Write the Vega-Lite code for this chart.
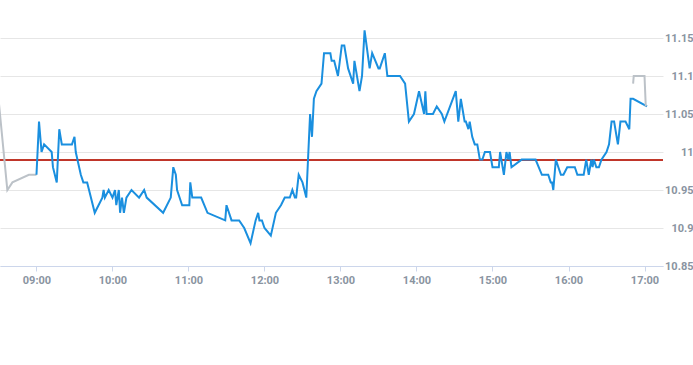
{
  "$schema": "https://vega.github.io/schema/vega-lite/v6.json",
  "width": 663,
  "height": 266,
  "padding": {"left": 0, "top": 0, "right": 30, "bottom": 99},
  "autosize": {"type": "none"},
  "background": "white",
  "config": {
    "view": {"stroke": null},
    "axis": {"labelFont": "Roboto", "labelFontSize": 11, "labelColor": "#8a94a1", "labelFontWeight": "bold"}
  },
  "data": {
    "values": [
      {"t": "2024-01-15T08:30:00", "p": 11.07, "s": "pre"},
      {"t": "2024-01-15T08:37:00", "p": 10.95, "s": "pre"},
      {"t": "2024-01-15T08:41:00", "p": 10.96, "s": "pre"},
      {"t": "2024-01-15T08:54:00", "p": 10.97, "s": "pre"},
      {"t": "2024-01-15T09:00:00", "p": 10.97, "s": "pre"},
      {"t": "2024-01-15T09:00:00", "p": 10.97, "s": "reg"},
      {"t": "2024-01-15T09:02:00", "p": 11.04, "s": "reg"},
      {"t": "2024-01-15T09:04:00", "p": 11.00, "s": "reg"},
      {"t": "2024-01-15T09:06:00", "p": 11.01, "s": "reg"},
      {"t": "2024-01-15T09:12:00", "p": 11.00, "s": "reg"},
      {"t": "2024-01-15T09:13:00", "p": 10.98, "s": "reg"},
      {"t": "2024-01-15T09:16:00", "p": 10.96, "s": "reg"},
      {"t": "2024-01-15T09:18:00", "p": 11.03, "s": "reg"},
      {"t": "2024-01-15T09:20:00", "p": 11.01, "s": "reg"},
      {"t": "2024-01-15T09:28:00", "p": 11.01, "s": "reg"},
      {"t": "2024-01-15T09:30:00", "p": 11.02, "s": "reg"},
      {"t": "2024-01-15T09:31:00", "p": 11.00, "s": "reg"},
      {"t": "2024-01-15T09:35:00", "p": 10.97, "s": "reg"},
      {"t": "2024-01-15T09:37:00", "p": 10.96, "s": "reg"},
      {"t": "2024-01-15T09:40:00", "p": 10.96, "s": "reg"},
      {"t": "2024-01-15T09:46:00", "p": 10.92, "s": "reg"},
      {"t": "2024-01-15T09:52:00", "p": 10.94, "s": "reg"},
      {"t": "2024-01-15T09:53:00", "p": 10.95, "s": "reg"},
      {"t": "2024-01-15T09:54:00", "p": 10.94, "s": "reg"},
      {"t": "2024-01-15T09:57:00", "p": 10.95, "s": "reg"},
      {"t": "2024-01-15T10:00:00", "p": 10.94, "s": "reg"},
      {"t": "2024-01-15T10:02:00", "p": 10.95, "s": "reg"},
      {"t": "2024-01-15T10:03:00", "p": 10.93, "s": "reg"},
      {"t": "2024-01-15T10:05:00", "p": 10.95, "s": "reg"},
      {"t": "2024-01-15T10:06:00", "p": 10.92, "s": "reg"},
      {"t": "2024-01-15T10:07:30", "p": 10.94, "s": "reg"},
      {"t": "2024-01-15T10:09:00", "p": 10.92, "s": "reg"},
      {"t": "2024-01-15T10:11:00", "p": 10.94, "s": "reg"},
      {"t": "2024-01-15T10:15:00", "p": 10.95, "s": "reg"},
      {"t": "2024-01-15T10:21:00", "p": 10.94, "s": "reg"},
      {"t": "2024-01-15T10:25:00", "p": 10.95, "s": "reg"},
      {"t": "2024-01-15T10:27:00", "p": 10.94, "s": "reg"},
      {"t": "2024-01-15T10:40:00", "p": 10.92, "s": "reg"},
      {"t": "2024-01-15T10:46:00", "p": 10.94, "s": "reg"},
      {"t": "2024-01-15T10:48:00", "p": 10.98, "s": "reg"},
      {"t": "2024-01-15T10:50:00", "p": 10.97, "s": "reg"},
      {"t": "2024-01-15T10:51:00", "p": 10.95, "s": "reg"},
      {"t": "2024-01-15T10:55:00", "p": 10.93, "s": "reg"},
      {"t": "2024-01-15T11:00:40", "p": 10.93, "s": "reg"},
      {"t": "2024-01-15T11:01:25", "p": 10.96, "s": "reg"},
      {"t": "2024-01-15T11:03:00", "p": 10.94, "s": "reg"},
      {"t": "2024-01-15T11:10:00", "p": 10.94, "s": "reg"},
      {"t": "2024-01-15T11:15:00", "p": 10.92, "s": "reg"},
      {"t": "2024-01-15T11:29:00", "p": 10.91, "s": "reg"},
      {"t": "2024-01-15T11:30:00", "p": 10.93, "s": "reg"},
      {"t": "2024-01-15T11:34:00", "p": 10.91, "s": "reg"},
      {"t": "2024-01-15T11:40:00", "p": 10.91, "s": "reg"},
      {"t": "2024-01-15T11:44:00", "p": 10.90, "s": "reg"},
      {"t": "2024-01-15T11:49:00", "p": 10.88, "s": "reg"},
      {"t": "2024-01-15T11:53:00", "p": 10.91, "s": "reg"},
      {"t": "2024-01-15T11:55:00", "p": 10.92, "s": "reg"},
      {"t": "2024-01-15T11:56:00", "p": 10.91, "s": "reg"},
      {"t": "2024-01-15T11:58:00", "p": 10.91, "s": "reg"},
      {"t": "2024-01-15T12:00:00", "p": 10.90, "s": "reg"},
      {"t": "2024-01-15T12:05:00", "p": 10.89, "s": "reg"},
      {"t": "2024-01-15T12:09:00", "p": 10.92, "s": "reg"},
      {"t": "2024-01-15T12:13:00", "p": 10.93, "s": "reg"},
      {"t": "2024-01-15T12:16:00", "p": 10.94, "s": "reg"},
      {"t": "2024-01-15T12:20:00", "p": 10.94, "s": "reg"},
      {"t": "2024-01-15T12:22:00", "p": 10.95, "s": "reg"},
      {"t": "2024-01-15T12:24:00", "p": 10.94, "s": "reg"},
      {"t": "2024-01-15T12:25:00", "p": 10.94, "s": "reg"},
      {"t": "2024-01-15T12:27:00", "p": 10.97, "s": "reg"},
      {"t": "2024-01-15T12:30:00", "p": 10.96, "s": "reg"},
      {"t": "2024-01-15T12:33:00", "p": 10.94, "s": "reg"},
      {"t": "2024-01-15T12:36:00", "p": 11.05, "s": "reg"},
      {"t": "2024-01-15T12:37:30", "p": 11.02, "s": "reg"},
      {"t": "2024-01-15T12:39:00", "p": 11.07, "s": "reg"},
      {"t": "2024-01-15T12:41:00", "p": 11.08, "s": "reg"},
      {"t": "2024-01-15T12:45:00", "p": 11.09, "s": "reg"},
      {"t": "2024-01-15T12:47:00", "p": 11.13, "s": "reg"},
      {"t": "2024-01-15T12:52:00", "p": 11.13, "s": "reg"},
      {"t": "2024-01-15T12:53:00", "p": 11.12, "s": "reg"},
      {"t": "2024-01-15T12:55:00", "p": 11.12, "s": "reg"},
      {"t": "2024-01-15T12:58:00", "p": 11.10, "s": "reg"},
      {"t": "2024-01-15T13:01:00", "p": 11.14, "s": "reg"},
      {"t": "2024-01-15T13:03:00", "p": 11.14, "s": "reg"},
      {"t": "2024-01-15T13:06:00", "p": 11.11, "s": "reg"},
      {"t": "2024-01-15T13:10:00", "p": 11.09, "s": "reg"},
      {"t": "2024-01-15T13:11:00", "p": 11.12, "s": "reg"},
      {"t": "2024-01-15T13:15:00", "p": 11.08, "s": "reg"},
      {"t": "2024-01-15T13:17:00", "p": 11.10, "s": "reg"},
      {"t": "2024-01-15T13:19:00", "p": 11.16, "s": "reg"},
      {"t": "2024-01-15T13:23:00", "p": 11.11, "s": "reg"},
      {"t": "2024-01-15T13:25:00", "p": 11.13, "s": "reg"},
      {"t": "2024-01-15T13:30:00", "p": 11.11, "s": "reg"},
      {"t": "2024-01-15T13:31:00", "p": 11.11, "s": "reg"},
      {"t": "2024-01-15T13:35:00", "p": 11.13, "s": "reg"},
      {"t": "2024-01-15T13:37:00", "p": 11.10, "s": "reg"},
      {"t": "2024-01-15T13:47:00", "p": 11.10, "s": "reg"},
      {"t": "2024-01-15T13:51:00", "p": 11.09, "s": "reg"},
      {"t": "2024-01-15T13:54:00", "p": 11.04, "s": "reg"},
      {"t": "2024-01-15T13:58:00", "p": 11.05, "s": "reg"},
      {"t": "2024-01-15T14:02:00", "p": 11.08, "s": "reg"},
      {"t": "2024-01-15T14:06:00", "p": 11.05, "s": "reg"},
      {"t": "2024-01-15T14:07:00", "p": 11.08, "s": "reg"},
      {"t": "2024-01-15T14:08:00", "p": 11.05, "s": "reg"},
      {"t": "2024-01-15T14:13:00", "p": 11.05, "s": "reg"},
      {"t": "2024-01-15T14:16:00", "p": 11.06, "s": "reg"},
      {"t": "2024-01-15T14:20:00", "p": 11.05, "s": "reg"},
      {"t": "2024-01-15T14:22:00", "p": 11.04, "s": "reg"},
      {"t": "2024-01-15T14:31:00", "p": 11.08, "s": "reg"},
      {"t": "2024-01-15T14:33:00", "p": 11.04, "s": "reg"},
      {"t": "2024-01-15T14:35:00", "p": 11.07, "s": "reg"},
      {"t": "2024-01-15T14:37:00", "p": 11.05, "s": "reg"},
      {"t": "2024-01-15T14:38:00", "p": 11.04, "s": "reg"},
      {"t": "2024-01-15T14:39:00", "p": 11.04, "s": "reg"},
      {"t": "2024-01-15T14:41:00", "p": 11.03, "s": "reg"},
      {"t": "2024-01-15T14:42:00", "p": 11.04, "s": "reg"},
      {"t": "2024-01-15T14:44:00", "p": 11.02, "s": "reg"},
      {"t": "2024-01-15T14:46:00", "p": 11.01, "s": "reg"},
      {"t": "2024-01-15T14:48:00", "p": 11.01, "s": "reg"},
      {"t": "2024-01-15T14:50:00", "p": 10.99, "s": "reg"},
      {"t": "2024-01-15T14:52:00", "p": 10.99, "s": "reg"},
      {"t": "2024-01-15T14:54:00", "p": 11.00, "s": "reg"},
      {"t": "2024-01-15T14:58:00", "p": 11.00, "s": "reg"},
      {"t": "2024-01-15T15:00:00", "p": 10.98, "s": "reg"},
      {"t": "2024-01-15T15:05:00", "p": 10.98, "s": "reg"},
      {"t": "2024-01-15T15:06:00", "p": 11.00, "s": "reg"},
      {"t": "2024-01-15T15:09:00", "p": 10.97, "s": "reg"},
      {"t": "2024-01-15T15:11:00", "p": 11.00, "s": "reg"},
      {"t": "2024-01-15T15:12:30", "p": 10.99, "s": "reg"},
      {"t": "2024-01-15T15:13:30", "p": 11.00, "s": "reg"},
      {"t": "2024-01-15T15:15:00", "p": 10.98, "s": "reg"},
      {"t": "2024-01-15T15:23:00", "p": 10.99, "s": "reg"},
      {"t": "2024-01-15T15:34:00", "p": 10.99, "s": "reg"},
      {"t": "2024-01-15T15:39:00", "p": 10.97, "s": "reg"},
      {"t": "2024-01-15T15:44:00", "p": 10.97, "s": "reg"},
      {"t": "2024-01-15T15:46:00", "p": 10.96, "s": "reg"},
      {"t": "2024-01-15T15:47:00", "p": 10.96, "s": "reg"},
      {"t": "2024-01-15T15:48:00", "p": 10.95, "s": "reg"},
      {"t": "2024-01-15T15:50:00", "p": 10.99, "s": "reg"},
      {"t": "2024-01-15T15:52:00", "p": 10.98, "s": "reg"},
      {"t": "2024-01-15T15:54:00", "p": 10.97, "s": "reg"},
      {"t": "2024-01-15T15:56:00", "p": 10.97, "s": "reg"},
      {"t": "2024-01-15T15:59:00", "p": 10.98, "s": "reg"},
      {"t": "2024-01-15T16:05:00", "p": 10.98, "s": "reg"},
      {"t": "2024-01-15T16:07:00", "p": 10.97, "s": "reg"},
      {"t": "2024-01-15T16:12:00", "p": 10.97, "s": "reg"},
      {"t": "2024-01-15T16:14:00", "p": 10.99, "s": "reg"},
      {"t": "2024-01-15T16:16:00", "p": 10.97, "s": "reg"},
      {"t": "2024-01-15T16:18:00", "p": 10.99, "s": "reg"},
      {"t": "2024-01-15T16:19:00", "p": 10.98, "s": "reg"},
      {"t": "2024-01-15T16:20:00", "p": 10.99, "s": "reg"},
      {"t": "2024-01-15T16:22:00", "p": 10.98, "s": "reg"},
      {"t": "2024-01-15T16:24:00", "p": 10.98, "s": "reg"},
      {"t": "2024-01-15T16:26:00", "p": 10.99, "s": "reg"},
      {"t": "2024-01-15T16:30:00", "p": 11.00, "s": "reg"},
      {"t": "2024-01-15T16:32:00", "p": 11.01, "s": "reg"},
      {"t": "2024-01-15T16:34:00", "p": 11.04, "s": "reg"},
      {"t": "2024-01-15T16:36:00", "p": 11.04, "s": "reg"},
      {"t": "2024-01-15T16:38:00", "p": 11.02, "s": "reg"},
      {"t": "2024-01-15T16:39:00", "p": 11.01, "s": "reg"},
      {"t": "2024-01-15T16:41:00", "p": 11.04, "s": "reg"},
      {"t": "2024-01-15T16:45:00", "p": 11.04, "s": "reg"},
      {"t": "2024-01-15T16:48:00", "p": 11.03, "s": "reg"},
      {"t": "2024-01-15T16:49:00", "p": 11.07, "s": "reg"},
      {"t": "2024-01-15T16:51:00", "p": 11.07, "s": "reg"},
      {"t": "2024-01-15T17:02:00", "p": 11.06, "s": "reg"},
      {"t": "2024-01-15T16:51:00", "p": 11.09, "s": "post"},
      {"t": "2024-01-15T16:51:30", "p": 11.10, "s": "post"},
      {"t": "2024-01-15T17:00:00", "p": 11.10, "s": "post"},
      {"t": "2024-01-15T17:01:00", "p": 11.06, "s": "post"}
    ]
  },
  "layer": [
    {
      "mark": {"type": "rule", "color": "#c0392b", "strokeWidth": 1},
      "encoding": {"y": {"datum": 10.99}}
    },
    {
      "mark": {"type": "line", "strokeWidth": 2, "clip": true},
      "encoding": {
        "x": {
          "field": "t",
          "type": "temporal",
          "scale": {"domain": [
            {"year": 2024, "month": 1, "date": 15, "hours": 8, "minutes": 31, "seconds": 12},
            {"year": 2024, "month": 1, "date": 15, "hours": 17, "minutes": 14, "seconds": 36}
          ]},
          "axis": {
            "title": null,
            "format": "%H:%M",
            "values": [
              {"year": 2024, "month": 1, "date": 15, "hours": 9},
              {"year": 2024, "month": 1, "date": 15, "hours": 10},
              {"year": 2024, "month": 1, "date": 15, "hours": 11},
              {"year": 2024, "month": 1, "date": 15, "hours": 12},
              {"year": 2024, "month": 1, "date": 15, "hours": 13},
              {"year": 2024, "month": 1, "date": 15, "hours": 14},
              {"year": 2024, "month": 1, "date": 15, "hours": 15},
              {"year": 2024, "month": 1, "date": 15, "hours": 16},
              {"year": 2024, "month": 1, "date": 15, "hours": 17}
            ],
            "grid": false,
            "domainColor": "#ccd6eb",
            "tickColor": "#ccd6eb",
            "tickSize": 5,
            "labelPadding": 3,
            "labelFlush": false,
            "labelOverlap": false
          }
        },
        "y": {
          "field": "p",
          "type": "quantitative",
          "scale": {"domain": [10.85, 11.2], "zero": false, "nice": false},
          "axis": {
            "title": null,
            "orient": "right",
            "values": [10.85, 10.9, 10.95, 11, 11.05, 11.1, 11.15],
            "labelExpr": "datum.value + ''",
            "grid": true,
            "gridColor": "#e6e6e6",
            "domain": false,
            "ticks": false,
            "labelAlign": "right",
            "labelBaseline": "middle",
            "labelPadding": 30
          }
        },
        "color": {
          "field": "s",
          "type": "nominal",
          "scale": {"domain": ["pre", "reg", "post"], "range": ["#bcc2c8", "#1a8fdf", "#bcc2c8"]},
          "legend": null
        }
      }
    }
  ]
}
